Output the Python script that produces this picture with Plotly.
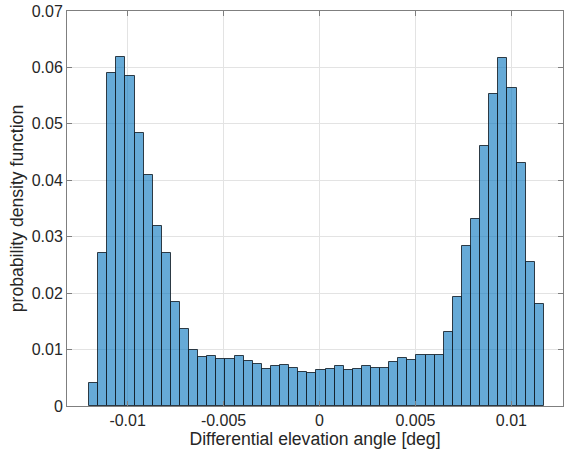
import plotly.graph_objects as go

# histogram data
bin_start = -0.01201
bin_width = 0.000474
pdf_values = [
    0.0040, 0.0272, 0.0591, 0.0619, 0.0585, 0.0484, 0.0409, 0.0319, 0.0271, 0.0185,
    0.0137, 0.0099, 0.0087, 0.0089, 0.0084, 0.0084, 0.0089, 0.0079, 0.0074, 0.0065,
    0.0071, 0.0073, 0.0067, 0.0060, 0.0059, 0.0063, 0.0066, 0.0071, 0.0064, 0.0066,
    0.0071, 0.0067, 0.0067, 0.0078, 0.0085, 0.0082, 0.0091, 0.0090, 0.0091, 0.0131,
    0.0193, 0.0283, 0.0332, 0.0461, 0.0553, 0.0616, 0.0563, 0.0431, 0.0255, 0.0180,
]
x_ticks = [-0.01, -0.005, 0, 0.005, 0.01]
x_ticktext = ["-0.01", "-0.005", "0", "0.005", "0.01"]
y_ticks = [0, 0.01, 0.02, 0.03, 0.04, 0.05, 0.06, 0.07]
y_ticktext = ["0", "0.01", "0.02", "0.03", "0.04", "0.05", "0.06", "0.07"]

centers = [bin_start + bin_width * (i + 0.5) for i in range(len(pdf_values))]

fig = go.Figure(go.Bar(
    x=centers, y=pdf_values, width=bin_width,
    marker=dict(color="rgba(0,114,189,0.6)",
                line=dict(color="rgba(20,30,40,0.85)", width=1)),
))

font = "Liberation Sans, Arial, Helvetica, sans-serif"
axis_common = dict(
    showline=True, linecolor="#7f7f7f", linewidth=1, mirror="allticks",
    ticks="inside", ticklen=5, tickcolor="#7f7f7f",
    showgrid=True, gridcolor="#e3e3e3", gridwidth=1, zeroline=False,
    tickfont=dict(family=font, size=16, color="#262626"),
)
fig.update_layout(
    width=565, height=454,
    margin=dict(l=67, r=2, t=11, b=48),
    paper_bgcolor="white", plot_bgcolor="white",
    showlegend=False, bargap=0,
    xaxis=dict(range=[-0.01316, 0.01269], tickvals=x_ticks, ticktext=x_ticktext,
               title=dict(text="Differential elevation angle [deg]", standoff=2,
                          font=dict(family=font, size=17.6, color="#262626")),
               **axis_common),
    yaxis=dict(range=[0, 0.07], tickvals=y_ticks, ticktext=y_ticktext,
               title=dict(text="probability density function", standoff=3,
                          font=dict(family=font, size=17.6, color="#262626")),
               **axis_common),
)
fig.write_html("out.html")
